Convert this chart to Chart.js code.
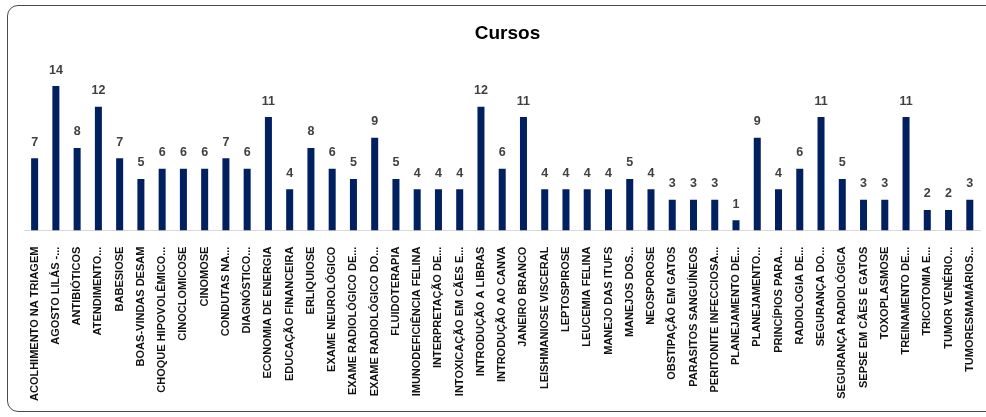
<!DOCTYPE html>
<html lang="pt">
<head>
  <meta charset="UTF-8" />
  <title>Cursos</title>
  <script src="https://cdn.jsdelivr.net/npm/chart.js"></script>
  <style>
    * { margin: 0; padding: 0; box-sizing: border-box; }
    html, body { width: 986px; height: 417px; overflow: hidden; background: #fff; }
    .frame {
      position: absolute; left: 7px; top: 5px; width: 1000px; height: 407px;
      border: 1.5px solid #4a4a4a; border-radius: 11px;
    }
    .wrap { position: absolute; left: 0; top: 0; width: 991px; height: 417px; }
  </style>
</head>
<body>
  <div class="frame"></div>
  <div class="wrap"><canvas id="chart"></canvas></div>

  <script>
    // categorias e valores
    const cursos = [
      "ACOLHIMENTO NA TRIAGEM", "AGOSTO LILÁS -...", "ANTIBIÓTICOS", "ATENDIMENTO...",
      "BABESIOSE", "BOAS-VINDAS DESAM", "CHOQUE HIPOVOLÊMICO...", "CINOCLOMICOSE",
      "CINOMOSE", "CONDUTAS NA...", "DIAGNÓSTICO...", "ECONOMIA DE ENERGIA",
      "EDUCAÇÃO FINANCEIRA", "ERLIQUIOSE", "EXAME NEUROLÓGICO", "EXAME RADIOLÓGICO DE...",
      "EXAME RADIOLÓGICO DO...", "FLUIDOTERAPIA", "IMUNODEFICIÊNCIA FELINA", "INTERPRETAÇÃO DE...",
      "INTOXICAÇÃO EM CÃES E...", "INTRODUÇÃO A LIBRAS", "INTRODUÇÃO AO CANVA", "JANEIRO BRANCO",
      "LEISHMANIOSE VISCERAL", "LEPTOSPIROSE", "LEUCEMIA FELINA", "MANEJO DAS ITUFS",
      "MANEJOS DOS...", "NEOSPOROSE", "OBSTIPAÇÃO EM GATOS", "PARASITOS SANGUÍNEOS",
      "PERITONITE INFECCIOSA...", "PLANEJAMENTO DE...", "PLANEJAMENTO...", "PRINCÍPIOS PARA...",
      "RADIOLOGIA DE...", "SEGURANÇA DO...", "SEGURANÇA RADIOLÓGICA", "SEPSE EM CÃES E GATOS",
      "TOXOPLASMOSE", "TREINAMENTO DE...", "TRICOTOMIA E...", "TUMOR VENÉRIO...",
      "TUMORESMAMÁRIOS..."
    ];
    const quantidade = [
      7, 14, 8, 12, 7, 5, 6, 6, 6, 7, 6, 11, 4, 8, 6, 5, 9, 5, 4, 4, 4, 12, 6, 11,
      4, 4, 4, 4, 5, 4, 3, 3, 3, 1, 9, 4, 6, 11, 5, 3, 3, 11, 2, 2, 3
    ];

    const fonte = "'Liberation Sans', Arial, sans-serif";

    // rótulos de valor acima das barras
    const valueLabels = {
      id: 'valueLabels',
      afterDatasetsDraw(chart) {
        const ctx = chart.ctx;
        const meta = chart.getDatasetMeta(0);
        ctx.save();
        ctx.font = "bold 12.5px " + fonte;
        ctx.fillStyle = '#404040';
        ctx.textAlign = 'center';
        ctx.textBaseline = 'middle';
        meta.data.forEach((bar, i) => {
          ctx.fillText(quantidade[i], bar.x, bar.y - 16);
        });
        ctx.restore();
      }
    };

    new Chart(document.getElementById('chart'), {
      type: 'bar',
      data: {
        labels: cursos,
        datasets: [{
          label: 'Cursos',
          data: quantidade,
          backgroundColor: '#002060',
          categoryPercentage: 1,
          barPercentage: 0.33
        }]
      },
      options: {
        responsive: true,
        maintainAspectRatio: false,
        animation: false,
        layout: { padding: { top: 22, left: 24, right: 0, bottom: 8 } },
        plugins: {
          legend: { display: false },
          tooltip: { enabled: false },
          title: {
            display: true,
            text: 'Cursos',
            color: '#000',
            font: { family: fonte, size: 19, weight: 'bold' },
            padding: { top: 0, bottom: 31 }
          }
        },
        scales: {
          x: {
            grid: { display: false },
            border: { display: true, color: '#d9d9d9', width: 1 },
            ticks: {
              autoSkip: false,
              maxRotation: 90,
              minRotation: 90,
              padding: 8,
              color: '#111',
              font: { family: fonte, size: 11, weight: 'bold' }
            }
          },
          y: {
            display: false,
            min: 0,
            max: 15
          }
        }
      },
      plugins: [valueLabels]
    });
  </script>
</body>
</html>
